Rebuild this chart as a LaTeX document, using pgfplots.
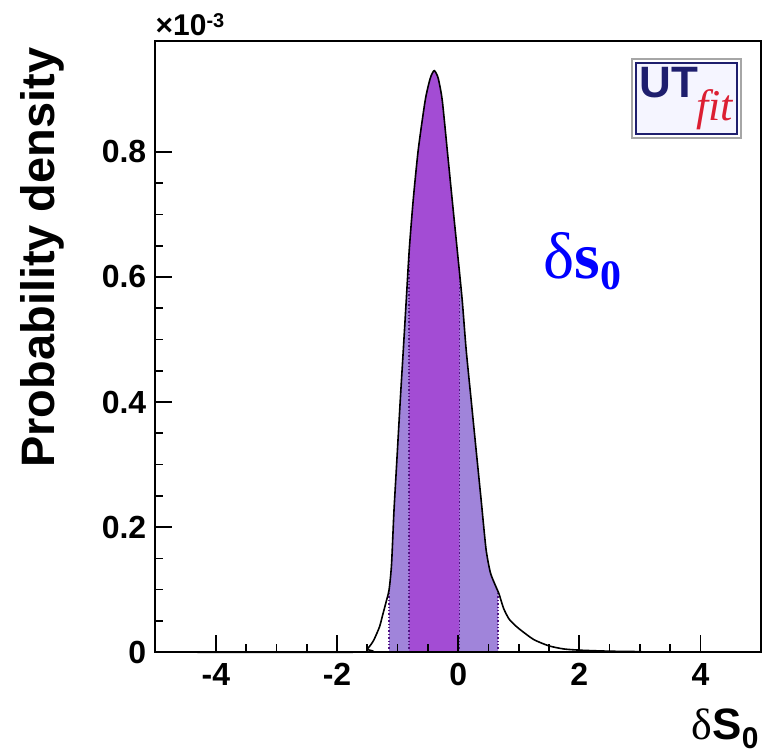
\documentclass[border=0pt]{standalone}
\usepackage{fontspec}
\setmainfont{Liberation Sans}
\newfontfamily\seriffont{Liberation Serif}
\usepackage{pgfplots}
\pgfplotsset{compat=1.18}
\usepgfplotslibrary{fillbetween}
\usetikzlibrary{calc}
\definecolor{darkp}{RGB}{163,76,212}
\definecolor{lightp}{RGB}{160,132,218}
\definecolor{dotc}{RGB}{80,20,130}
\definecolor{utnavy}{RGB}{30,30,110}
\definecolor{utred}{RGB}{220,30,50}
\pgfplotstableread{
x y
-5 0
-1.6 0
-1.5 0.005
-1.4 0.018
-1.3 0.040
-1.25 0.058
-1.19 0.080
-1.14 0.100
-1.10 0.140
-1.06 0.225
-1.01 0.310
-0.955 0.404
-0.905 0.484
-0.856 0.564
-0.807 0.644
-0.741 0.724
-0.658 0.804
-0.543 0.883
-0.46 0.918
-0.395 0.930
-0.33 0.918
-0.263 0.883
-0.181 0.804
-0.099 0.724
-0.016 0.644
0.066 0.564
0.132 0.484
0.214 0.404
0.296 0.324
0.379 0.244
0.46 0.165
0.53 0.128
0.60 0.110
0.675 0.093
0.75 0.070
0.84 0.053
0.95 0.042
1.05 0.034
1.25 0.020
1.5 0.010
1.75 0.005
2.04 0.003
2.5 0.0015
3.0 0.0008
3.2 0
5 0
}\density
\begin{document}
\begin{tikzpicture}
\begin{axis}[
  scale only axis,
  width=303.25pt, height=306.15pt,
  xmin=-5, xmax=5, ymin=0, ymax=0.978,
  axis line style={line width=1pt},
  axis on top,
  tick align=inside,
  xtick pos=bottom, ytick pos=left,
  xtick={-4,-2,0,2,4},
  xticklabels={-4,-2,0,2,4},
  ytick={0,0.2,0.4,0.6,0.8},
  yticklabels={0,0.2,0.4,0.6,0.8},
  minor x tick num=3,
  minor y tick num=3,
  major tick length=8.5pt,
  minor tick length=4pt,
  tick style={line width=0.8pt, black},
  xticklabel style={font=\bfseries\fontsize{16}{16}\selectfont, yshift=-2pt},
  yticklabel style={font=\bfseries\fontsize{16}{16}\selectfont, xshift=-1pt},
  ylabel={\bfseries\fontsize{23.5}{23.5}\selectfont Probability density},
  ylabel style={at={(axis description cs:-0.187,1.0)}, anchor=east, rotate=0},
  clip=false,
]
\addplot[draw=none, name path=curve, smooth, tension=0.4] table[x=x,y=y] {\density};
\addplot[draw=none, name path=base] coordinates {(-5,0) (5,0)};
\addplot[lightp, draw=none] fill between[of=curve and base, soft clip={domain=-1.14:0.66}];
\addplot[darkp, draw=none] fill between[of=curve and base, soft clip={domain=-0.81:0.02}];
\addplot[dotc, densely dotted, line width=0.7pt] coordinates {(-1.14,0) (-1.14,0.100)};
\addplot[dotc, densely dotted, line width=0.7pt] coordinates {(-0.81,0) (-0.81,0.640)};
\addplot[dotc, densely dotted, line width=0.7pt] coordinates {(0.02,0) (0.02,0.610)};
\addplot[dotc, densely dotted, line width=0.7pt] coordinates {(0.66,0) (0.66,0.096)};
\addplot[black, line width=0.8pt, smooth, tension=0.4] table[x=x,y=y] {\density};
% scale factor
\node[anchor=south west, inner sep=0pt, yshift=2pt, font=\bfseries\fontsize{15}{15}\selectfont]
  at (axis description cs:0,1) {×10\raisebox{0.55ex}{\fontsize{10}{10}\selectfont -3}};
% blue label
\node[text=blue, font=\seriffont\fontsize{33}{33}\selectfont] at (axis cs:2.05,0.625)
  {δ\textbf{s}\raisebox{-0.35ex}{\fontsize{21}{21}\selectfont\textbf{0}}};
% UTfit logo
\node[draw=gray!70, line width=1pt, fill=white, inner sep=1.5pt] at (axis cs:3.77,0.885)
  {\tikz\node[draw=utnavy, line width=1pt, fill=blue!4, inner sep=2pt, minimum width=44pt, minimum height=26pt]
  {\fontsize{22}{22}\selectfont\bfseries\color{utnavy}UT\kern-1pt\raisebox{-1.0ex}{\color{utred}\mdseries\seriffont\itshape fit}};};
% x label
\node[anchor=base east, inner sep=0pt, yshift=-43.5pt, xshift=-1pt] at (axis description cs:1,0)
  {{\seriffont\fontsize{22}{22}\selectfont δ}{\bfseries\fontsize{22}{22}\selectfont S\raisebox{-0.4ex}{\fontsize{15}{15}\selectfont 0}}};
\end{axis}
\pgfresetboundingbox
\path[use as bounding box] ($(current axis.south west)+(-77.75pt,-50.5pt)$) rectangle ($(current axis.north east)+(0.5pt,20.35pt)$);
\end{tikzpicture}
\end{document}
